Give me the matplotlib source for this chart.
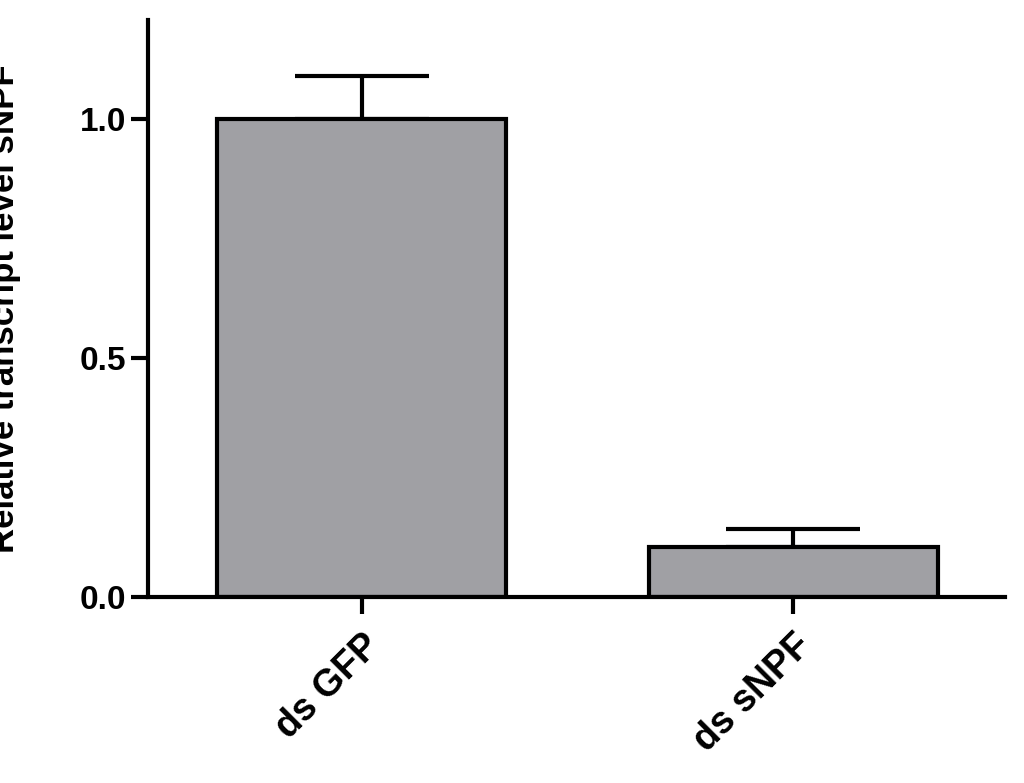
import matplotlib
matplotlib.use('Agg')
import matplotlib.pyplot as plt

plt.rcParams['font.family'] = ['Liberation Sans', 'DejaVu Sans']

groups = ['ds GFP', 'ds sNPF']
values = [1.0, 0.105]
errors = [0.09, 0.037]

fig = plt.figure(figsize=(10.24, 7.83), dpi=100)
ax = fig.add_axes([0.1445, 0.2375, 0.837, 0.737])

x = range(len(groups))
ax.bar(x, values, width=0.67, color='#a0a0a4', edgecolor='black', linewidth=3, zorder=2)
ax.errorbar(x, values, yerr=[[0] * len(errors), errors], fmt='none', ecolor='black',
            elinewidth=3, capsize=48, capthick=3, zorder=1)

ax.set_xlim(-0.495, 1.49)
ax.set_ylim(0, 1.207)
ax.set_yticks([0.0, 0.5, 1.0])
ax.set_yticklabels(['0.0', '0.5', '1.0'], fontsize=24, fontweight='bold')
ax.set_xticks(list(x))
ax.set_xticklabels(groups, rotation=45, ha='right', rotation_mode='anchor',
                   fontsize=27, fontweight='bold')
ax.set_ylabel('Relative transcript level sNPF', fontsize=25, fontweight='bold', labelpad=6)
ax.yaxis.set_label_coords(-0.148, 0.5)
ax.spines['top'].set_visible(False)
ax.spines['right'].set_visible(False)
for s in ['left', 'bottom']:
    ax.spines[s].set_linewidth(3)
ax.tick_params(width=3, length=12)
ax.tick_params(axis='x', pad=10)

fig.savefig('out.png', dpi=100)
